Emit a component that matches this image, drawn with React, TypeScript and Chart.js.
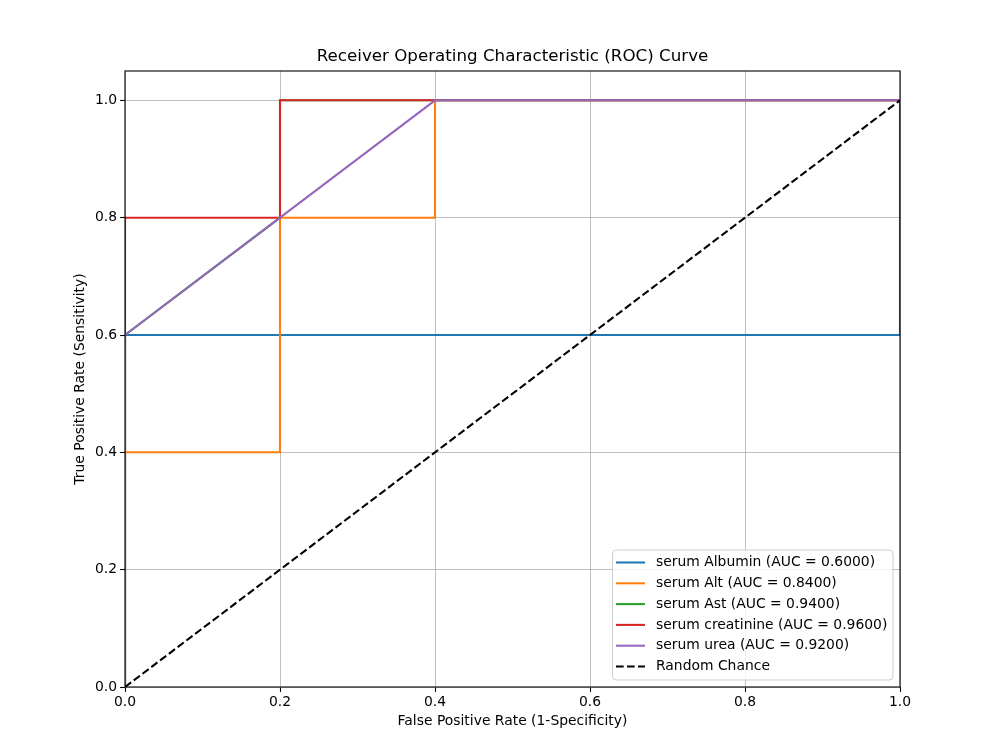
import React, { useEffect, useRef } from "react";
import { Chart, registerables } from "chart.js";

Chart.register(...registerables);

const albuminFpr = [0, 0, 1, 1];
const albuminTpr = [0, 0.6, 0.6, 1];
const altFpr = [0, 0, 0.2, 0.2, 0.4, 0.4, 1];
const altTpr = [0, 0.4, 0.4, 0.8, 0.8, 1, 1];
const astFpr = [0, 0, 0.2, 0.2, 1];
const astTpr = [0, 0.6, 0.8, 1, 1];
const creatinineFpr = [0, 0, 0.2, 0.2, 1];
const creatinineTpr = [0, 0.8, 0.8, 1, 1];
const ureaFpr = [0, 0, 0.2, 0.4, 1];
const ureaTpr = [0, 0.6, 0.8, 1, 1];
const chanceFpr = [0, 1];
const chanceTpr = [0, 1];

const seriesLabels = [
  "serum Albumin (AUC = 0.6000)",
  "serum Alt (AUC = 0.8400)",
  "serum Ast (AUC = 0.9400)",
  "serum creatinine (AUC = 0.9600)",
  "serum urea (AUC = 0.9200)",
  "Random Chance",
];
const seriesColors = ["#1f77b4", "#ff7f0e", "#2ca02c", "#d62728", "#9467bd", "#000000"];
const xTicks = [0, 0.2, 0.4, 0.6, 0.8, 1.0];
const yTicks = [0, 0.2, 0.4, 0.6, 0.8, 1.0];

const FONT = "'DejaVu Sans', sans-serif";
const LW = 2.08;

function pts(xs: number[], ys: number[]) {
  return xs.map((x, i) => ({ x, y: ys[i] }));
}

export default function App() {
  const ref = useRef<HTMLCanvasElement | null>(null);
  useEffect(() => {
    const canvas = ref.current!;
    const series = [
      [albuminFpr, albuminTpr],
      [altFpr, altTpr],
      [astFpr, astTpr],
      [creatinineFpr, creatinineTpr],
      [ureaFpr, ureaTpr],
      [chanceFpr, chanceTpr],
    ];
    const n = series.length;
    const datasets = series.map(([xs, ys], i) => ({
      label: seriesLabels[i],
      data: pts(xs, ys),
      borderColor: seriesColors[i],
      backgroundColor: seriesColors[i],
      borderWidth: LW,
      borderDash: i === 5 ? [7.7, 3.3] : [],
      pointRadius: 0,
      showLine: true,
      tension: 0,
      fill: false,
      order: n - 1 - i,
    }));

    const framePlugin = {
      id: "frame",
      afterDatasetsDraw(chart: any) {
        const { ctx, chartArea: a } = chart;
        ctx.save();
        ctx.strokeStyle = "#000";
        ctx.lineWidth = 1.1;
        ctx.strokeRect(a.left, a.top, a.right - a.left, a.bottom - a.top);
        ctx.restore();
      },
      afterDraw(chart: any) {
        const { ctx, chartArea: a } = chart;
        ctx.save();
        ctx.fillStyle = "#000";
        ctx.font = `16.7px ${FONT}`;
        ctx.textAlign = "center";
        ctx.textBaseline = "middle";
        ctx.fillText("Receiver Operating Characteristic (ROC) Curve", (a.left + a.right) / 2, 57);
        const bx = 612.5, by = 550, bw = 280.5, bh = 130, r = 4;
        ctx.beginPath();
        ctx.moveTo(bx + r, by);
        ctx.lineTo(bx + bw - r, by);
        ctx.quadraticCurveTo(bx + bw, by, bx + bw, by + r);
        ctx.lineTo(bx + bw, by + bh - r);
        ctx.quadraticCurveTo(bx + bw, by + bh, bx + bw - r, by + bh);
        ctx.lineTo(bx + r, by + bh);
        ctx.quadraticCurveTo(bx, by + bh, bx, by + bh - r);
        ctx.lineTo(bx, by + r);
        ctx.quadraticCurveTo(bx, by, bx + r, by);
        ctx.closePath();
        ctx.fillStyle = "rgba(255,255,255,0.8)";
        ctx.fill();
        ctx.strokeStyle = "#cccccc";
        ctx.lineWidth = 1;
        ctx.stroke();
        ctx.font = `13.9px ${FONT}`;
        ctx.textAlign = "left";
        chart.data.datasets.forEach((ds: any, i: number) => {
          const y = 562.5 + i * 20.8;
          ctx.beginPath();
          ctx.strokeStyle = ds.borderColor;
          ctx.lineWidth = LW;
          ctx.setLineDash(ds.borderDash || []);
          ctx.moveTo(616, y);
          ctx.lineTo(645, y);
          ctx.stroke();
          ctx.setLineDash([]);
          ctx.fillStyle = "#000";
          ctx.fillText(ds.label, 656, y);
        });
        ctx.restore();
      },
    };

    const chart = new Chart(canvas, {
      type: "scatter",
      data: { datasets: datasets as any },
      options: {
        animation: false,
        responsive: false,
        devicePixelRatio: 1,
        layout: { padding: { left: 0, right: 100, top: 71, bottom: 0 } },
        plugins: { legend: { display: false }, title: { display: false }, tooltip: { enabled: false } },
        scales: {
          x: {
            type: "linear",
            min: 0,
            max: 1,
            afterFit: (s: any) => { s.height = 63; },
            afterBuildTicks: (s: any) => { s.ticks = xTicks.map((v) => ({ value: v })); },
            ticks: {
              color: "#000",
              font: { family: FONT, size: 13.9 },
              padding: 2,
              maxRotation: 0,
              callback: (v: any) => Number(v).toFixed(1),
            },
            grid: { color: "#b0b0b0", lineWidth: 0.8, tickColor: "#000", tickLength: 4.9, tickWidth: 1.1 },
            border: { display: false },
            title: {
              display: true,
              text: "False Positive Rate (1-Specificity)",
              color: "#000",
              font: { family: FONT, size: 13.9 },
              padding: { top: 0, bottom: 20 },
            },
          },
          y: {
            type: "linear",
            min: 0,
            max: 1.05,
            afterFit: (s: any) => { s.width = 125; },
            afterBuildTicks: (s: any) => { s.ticks = yTicks.map((v) => ({ value: v })); },
            ticks: {
              color: "#000",
              font: { family: FONT, size: 13.9 },
              padding: 3,
              callback: (v: any) => Number(v).toFixed(1),
            },
            grid: { color: "#b0b0b0", lineWidth: 0.8, tickColor: "#000", tickLength: 4.9, tickWidth: 1.1 },
            border: { display: false },
            title: {
              display: true,
              text: "True Positive Rate (Sensitivity)",
              color: "#000",
              font: { family: FONT, size: 13.9 },
              padding: { top: 72, bottom: 0 },
            },
          },
        },
      },
      plugins: [framePlugin],
    });
    return () => chart.destroy();
  }, []);
  return (
    <div style={{ position: "absolute", left: 0, top: 0, width: 1000, height: 750, background: "#fff" }}>
      <canvas ref={ref} width={1000} height={750} style={{ display: "block" }} />
    </div>
  );
}
